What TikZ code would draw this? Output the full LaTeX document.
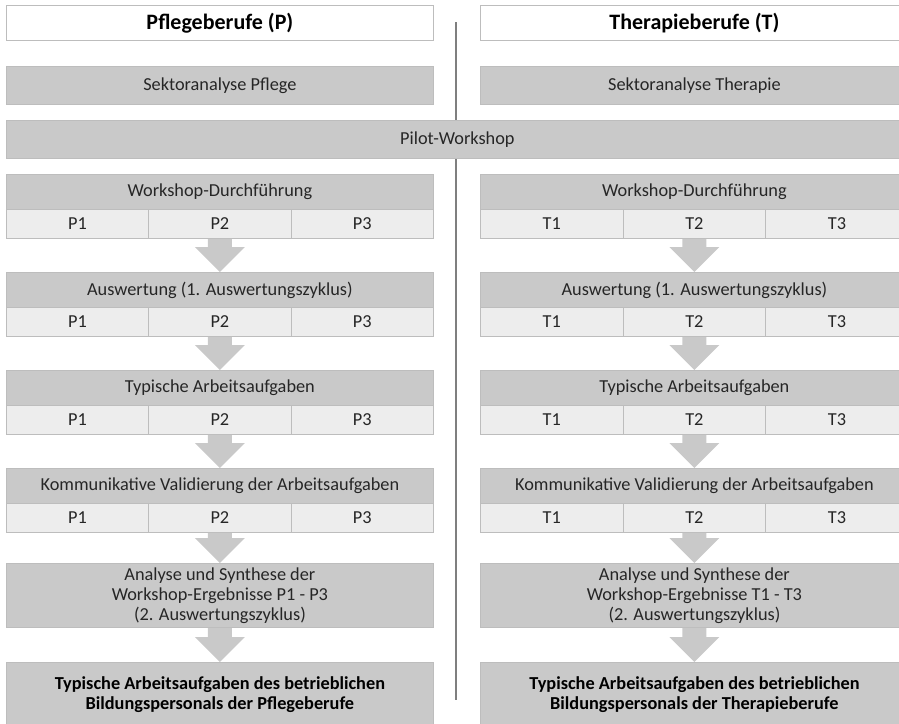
\documentclass[tikz,border=0pt]{standalone}
\usepackage{fontspec}
\setmainfont{Carlito}
\usetikzlibrary{calc}

\definecolor{barfill}{HTML}{C9C9C9}
\definecolor{cellfill}{HTML}{EDEDED}
\definecolor{edge}{HTML}{BDBDBD}
\definecolor{divider}{HTML}{7F7F7F}
\definecolor{ink}{HTML}{262626}

\tikzset{
  box/.style={draw=edge, line width=0.8pt, inner sep=0pt, anchor=north west,
    align=center, text=ink, font=\fontsize{18.3}{20}\selectfont},
  bar/.style={box, fill=barfill},
  cell/.style={box, fill=cellfill},
  titlebox/.style={box, fill=white, text=black,
    font=\fontsize{22}{24}\selectfont\bfseries},
  resultbox/.style={bar, text=black,
    font=\fontsize{18.3}{20}\selectfont\bfseries},
  flow/.style={fill=barfill},
  divline/.style={draw=divider, line width=1.5pt},
}

% box placed by its top-left and bottom-right corners (y grows downwards)
\newcommand\placebox[7]{%
  \node[#2, minimum width={(#5)-(#3)}, minimum height={(#6)-(#4)}] (#1) at (#3,#4) {#7};}

% block arrow from the bottom of one node to the top of the next
\newcommand\flowarrow[2]{%
  \fill[flow] ($(#1.south)+(-12,0)$) -- ($(#1.south)+(12,0)$)
    -- ($(#2.north)+(12,-25)$) -- ($(#2.north)+(25,-25)$) -- (#2.north)
    -- ($(#2.north)+(-25,-25)$) -- ($(#2.north)+(-12,-25)$) -- cycle;}

\begin{document}
\begin{tikzpicture}[x=1pt, y=-1pt]
\useasboundingbox (0,0) rectangle (899,723);

% column divider, drawn first so the shared bar covers it
\coordinate (divtop) at (456,22);
\coordinate (divbot) at (456,700);
\draw[divline] (divtop) -- (divbot);

% column titles
\placebox{Ptitle}{titlebox}{6}{5}{433}{40}{Pflegeberufe (P)}
\placebox{Ttitle}{titlebox}{480}{5}{908}{40}{Therapieberufe (T)}

% sector analyses
\placebox{Psektor}{bar}{6}{66}{433}{104}{Sektoranalyse Pflege}
\placebox{Tsektor}{bar}{480}{66}{908}{104}{Sektoranalyse Therapie}

% shared pilot workshop
\placebox{pilot}{bar}{6}{120}{908}{158}{Pilot-Workshop}

% four workshop stages, each with three groups per column
\foreach \k/\lbl in {0/{Workshop-Durchführung},
                     1/{Auswertung (1. Auswertungszyklus)},
                     2/{Typische Arbeitsaufgaben},
                     3/{Kommunikative Validierung der Arbeitsaufgaben}}{
  \pgfmathsetmacro\top{174+98*\k}
  \pgfmathsetmacro\mid{\top+35}
  \pgfmathsetmacro\bot{\top+64}
  \placebox{Ph\k}{bar}{6}{\top}{433}{\mid}{\lbl}
  \placebox{Pc\k1}{cell}{6}{\mid}{148.3}{\bot}{P1}
  \placebox{Pc\k2}{cell}{148.3}{\mid}{290.7}{\bot}{P2}
  \placebox{Pc\k3}{cell}{290.7}{\mid}{433}{\bot}{P3}
  \placebox{Th\k}{bar}{480}{\top}{908}{\mid}{\lbl}
  \placebox{Tc\k1}{cell}{480}{\mid}{622.7}{\bot}{T1}
  \placebox{Tc\k2}{cell}{622.7}{\mid}{765.3}{\bot}{T2}
  \placebox{Tc\k3}{cell}{765.3}{\mid}{908}{\bot}{T3}
}

% synthesis
\placebox{Panalyse}{bar}{6}{563}{433}{627}{Analyse und Synthese der\\Workshop-Ergebnisse P1 - P3\\(2. Auswertungszyklus)}
\placebox{Tanalyse}{bar}{480}{563}{908}{627}{Analyse und Synthese der\\Workshop-Ergebnisse T1 - T3\\(2. Auswertungszyklus)}

% results
\placebox{Presult}{resultbox}{6}{662}{433}{726}{Typische Arbeitsaufgaben des betrieblichen\\Bildungspersonals der Pflegeberufe}
\placebox{Tresult}{resultbox}{480}{662}{908}{726}{Typische Arbeitsaufgaben des betrieblichen\\Bildungspersonals der Therapieberufe}

% stage arrows
\foreach \c in {P,T}{
  \flowarrow{\c c02}{\c h1}
  \flowarrow{\c c12}{\c h2}
  \flowarrow{\c c22}{\c h3}
  \flowarrow{\c c32}{\c analyse}
  \flowarrow{\c analyse}{\c result}
}
\end{tikzpicture}
\end{document}
